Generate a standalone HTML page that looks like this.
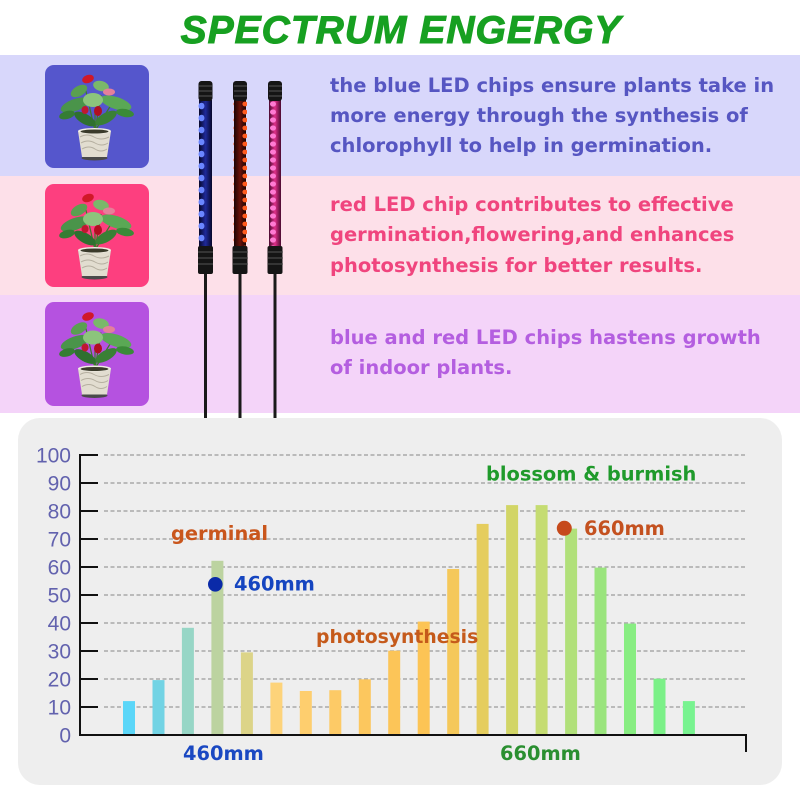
<!DOCTYPE html>
<html><head><meta charset="utf-8"><style>
html,body{margin:0;padding:0;background:#fff;}
body{width:800px;height:800px;overflow:hidden;position:relative;}
svg{position:absolute;left:0;top:0;}
.b{font-family:"DejaVu Sans","Liberation Sans",sans-serif;font-weight:bold;}
</style></head><body>
<svg width="800" height="800" viewBox="0 0 800 800" xmlns="http://www.w3.org/2000/svg">
<defs>
<symbol id="plant" viewBox="0 0 104 103">
  <g stroke="#3c7a2c" stroke-width="1.2" fill="none">
    <path d="M50 66 L44 40 M50 66 L56 30 M50 66 L40 22 M50 66 L66 40 M50 66 L50 46"/>
  </g>
  <ellipse cx="30" cy="40" rx="15" ry="6" transform="rotate(-20 30 40)" fill="#4a944a"/>
  <ellipse cx="71" cy="38" rx="16" ry="6" transform="rotate(18 71 38)" fill="#5aa855"/>
  <ellipse cx="48" cy="35" rx="10" ry="7" fill="#8cc47c"/>
  <ellipse cx="40" cy="54" rx="12" ry="5" transform="rotate(30 40 54)" fill="#2f7030"/>
  <ellipse cx="61" cy="53" rx="12" ry="5" transform="rotate(-30 61 53)" fill="#3a8035"/>
  <ellipse cx="56" cy="21" rx="8" ry="5" transform="rotate(15 56 21)" fill="#7ab86a"/>
  <ellipse cx="34" cy="26" rx="9" ry="5" transform="rotate(-30 34 26)" fill="#5aa050"/>
  <ellipse cx="80" cy="48" rx="9" ry="4" transform="rotate(10 80 48)" fill="#3a8a38"/>
  <ellipse cx="22" cy="50" rx="8" ry="4" transform="rotate(-15 22 50)" fill="#357d33"/>
  <ellipse cx="43" cy="14" rx="6" ry="4" transform="rotate(-20 43 14)" fill="#d01828"/>
  <ellipse cx="64" cy="27" rx="6" ry="3.5" fill="#e4809a"/>
  <ellipse cx="53" cy="46" rx="4" ry="5" fill="#b01020"/>
  <ellipse cx="40" cy="45" rx="3.5" ry="4" fill="#c01830"/>
  <ellipse cx="49.5" cy="93" rx="13" ry="2.5" fill="#4a4a4a"/>
  <path d="M33 66 L66 66 L62 92 L37 92 Z" fill="#e2ddd0"/>
  <path d="M35 72 Q42 68 49 72 T64 72 M36 78 Q43 74 50 78 T63 78 M37 84 Q44 80 50 84 T62 84" stroke="#b5afa0" stroke-width="1" fill="none"/>
  <ellipse cx="49.5" cy="66" rx="16.5" ry="3" fill="#f0ede4"/>
  <ellipse cx="49.5" cy="66.5" rx="14" ry="2" fill="#3a3a2a"/>
</symbol>
<linearGradient id="gBlue" x1="0" x2="1" y1="0" y2="0">
  <stop offset="0" stop-color="#07072a"/><stop offset="0.5" stop-color="#1f2a9a"/><stop offset="1" stop-color="#07072a"/>
</linearGradient>
<linearGradient id="gRed" x1="0" x2="1" y1="0" y2="0">
  <stop offset="0" stop-color="#1a0404"/><stop offset="0.5" stop-color="#6a1208"/><stop offset="1" stop-color="#1a0404"/>
</linearGradient>
<linearGradient id="gPink" x1="0" x2="1" y1="0" y2="0">
  <stop offset="0" stop-color="#4a0a30"/><stop offset="0.5" stop-color="#e0308a"/><stop offset="1" stop-color="#4a0a30"/>
</linearGradient>
<pattern id="ledB" x="0" y="100" width="14" height="12" patternUnits="userSpaceOnUse">
  <ellipse cx="7" cy="6" rx="3" ry="3.3" fill="#6a86ff"/>
</pattern>
<pattern id="ledR" x="0" y="100" width="14" height="8" patternUnits="userSpaceOnUse">
  <ellipse cx="7" cy="4" rx="2.6" ry="2.4" fill="#ff5a1e"/>
</pattern>
<pattern id="ledP" x="0" y="100" width="14" height="8" patternUnits="userSpaceOnUse">
  <ellipse cx="7" cy="4" rx="3" ry="2.6" fill="#ff7ad2"/>
</pattern>
</defs>

<!-- title -->
<text x="401" y="43" text-anchor="middle" font-family="Liberation Sans, sans-serif" font-weight="bold" font-style="italic" font-size="39" letter-spacing="1" fill="#17a021" stroke="#17a021" stroke-width="1">SPECTRUM ENGERGY</text>

<!-- bands -->
<rect x="0" y="55" width="800" height="121" fill="#d8d7fb"/>
<rect x="0" y="176" width="800" height="119" fill="#fde0e9"/>
<rect x="0" y="295" width="800" height="118" fill="#f4d4f9"/>

<!-- icons -->
<rect x="45" y="65" width="104" height="103" rx="9" fill="#5556cc"/>
<rect x="45" y="184" width="104" height="103" rx="9" fill="#fd3f7f"/>
<rect x="45" y="302" width="104" height="104" rx="9" fill="#b552e0"/>
<use href="#plant" x="45" y="65" width="104" height="103"/>
<use href="#plant" x="45" y="184" width="104" height="103"/>
<use href="#plant" x="45" y="302" width="104" height="104"/>

<!-- sticks -->
<g>
  <rect x="204" y="270" width="3" height="150" fill="#1a1a1a"/>
  <rect x="238.5" y="270" width="3" height="150" fill="#1a1a1a"/>
  <rect x="273.5" y="270" width="3" height="150" fill="#1a1a1a"/>
  <rect x="199" y="100" width="13" height="148" fill="url(#gBlue)"/>
  <rect x="199" y="100" width="13" height="148" fill="url(#ledB)" transform="translate(-1.5 0)"/>
  <rect x="198.5" y="81" width="14" height="20" rx="3" fill="#151515"/>
  <rect x="198" y="246" width="15" height="28" rx="2" fill="#151515"/>
  <rect x="234" y="100" width="12" height="148" fill="url(#gRed)"/>
  <rect x="233" y="100" width="14" height="148" fill="url(#ledR)"/>
  <rect x="233" y="81" width="14" height="20" rx="3" fill="#151515"/>
  <rect x="232.5" y="246" width="15" height="28" rx="2" fill="#151515"/>
  <rect x="269" y="100" width="12" height="148" fill="url(#gPink)"/>
  <rect x="268" y="100" width="14" height="148" fill="url(#ledP)"/>
  <rect x="268" y="81" width="14" height="20" rx="3" fill="#151515"/>
  <rect x="267.5" y="246" width="15" height="28" rx="2" fill="#151515"/>
  <g stroke="#555" stroke-width="1">
    <path d="M199 86h13M199 91h13M199 96h13M234 86h13M234 91h13M234 96h13M269 86h13M269 91h13M269 96h13"/>
    <path d="M198 252h15M198 258h15M198 264h15M233 252h15M233 258h15M233 264h15M268 252h15M268 258h15M268 264h15"/>
  </g>
</g>

<!-- paragraphs -->
<g class="b" font-size="19.5">
  <g fill="#5656c2">
    <text x="330" y="92">the blue LED chips ensure plants take in</text>
    <text x="330" y="122">more energy through the synthesis of</text>
    <text x="330" y="152">chlorophyll to help in germination.</text>
  </g>
  <g fill="#f0457e">
    <text x="330" y="211">red LED chip contributes to effective</text>
    <text x="330" y="241">germination,flowering,and enhances</text>
    <text x="330" y="272">photosynthesis for better results.</text>
  </g>
  <g fill="#b45ee0">
    <text x="330" y="344">blue and red LED chips hastens growth</text>
    <text x="330" y="374">of indoor plants.</text>
  </g>
</g>

<!-- chart panel -->
<rect x="18" y="418" width="764" height="367" rx="22" fill="#eeeeee"/>

<g stroke="#a9a9a9" stroke-width="1.6" stroke-dasharray="4 2.5">
  <line x1="104" x2="747" y1="707" y2="707"/>
  <line x1="104" x2="747" y1="679" y2="679"/>
  <line x1="104" x2="747" y1="651" y2="651"/>
  <line x1="104" x2="747" y1="623" y2="623"/>
  <line x1="104" x2="747" y1="595" y2="595"/>
  <line x1="104" x2="747" y1="567" y2="567"/>
  <line x1="104" x2="747" y1="539" y2="539"/>
  <line x1="104" x2="747" y1="511" y2="511"/>
  <line x1="104" x2="747" y1="483" y2="483"/>
  <line x1="104" x2="747" y1="455" y2="455"/>
</g>
<g stroke="#111" stroke-width="2">
  <path d="M80 707h18M80 679h18M80 651h18M80 623h18M80 595h18M80 567h18M80 539h18M80 511h18M80 483h18M80 455h18"/>
  <path d="M80 454V736M79 735H747M746 734V752"/>
</g>
<g font-family="Liberation Sans, sans-serif" font-size="21" fill="#6262ae" text-anchor="end">
  <text x="71" y="462.5">100</text>
  <text x="71" y="490.5">90</text>
  <text x="71" y="518.5">80</text>
  <text x="71" y="546.5">70</text>
  <text x="71" y="574.5">60</text>
  <text x="71" y="602.5">50</text>
  <text x="71" y="630.5">40</text>
  <text x="71" y="658.5">30</text>
  <text x="71" y="686.5">20</text>
  <text x="71" y="714.5">10</text>
  <text x="71" y="742.5">0</text>
</g>
<g>
  <rect x="123" y="701.1" width="12" height="32.9" fill="#5bd6f8"/>
  <rect x="152.5" y="680.1" width="12" height="53.9" fill="#72d3e4"/>
  <rect x="181.9" y="627.8" width="12" height="106.2" fill="#97d6c6"/>
  <rect x="211.4" y="560.8" width="12" height="173.2" fill="#bcd3a0"/>
  <rect x="240.9" y="652.4" width="12" height="81.6" fill="#dcd488"/>
  <rect x="270.4" y="682.6" width="12" height="51.4" fill="#fdd37a"/>
  <rect x="299.8" y="691" width="12" height="43" fill="#fece6e"/>
  <rect x="329.3" y="690.2" width="12" height="43.8" fill="#fdca66"/>
  <rect x="358.8" y="679.3" width="12" height="54.7" fill="#fcc75e"/>
  <rect x="388.2" y="650.7" width="12" height="83.3" fill="#fcc558"/>
  <rect x="417.7" y="621.6" width="12" height="112.4" fill="#fcc455"/>
  <rect x="447.2" y="569" width="12" height="165" fill="#f5c85a"/>
  <rect x="476.6" y="523.9" width="12" height="210.1" fill="#e5cd5e"/>
  <rect x="506.1" y="505.1" width="12" height="228.9" fill="#d2d566"/>
  <rect x="535.6" y="505.1" width="12" height="228.9" fill="#c5dc72"/>
  <rect x="565.1" y="528.6" width="12" height="205.4" fill="#b1e07a"/>
  <rect x="594.5" y="567.6" width="12" height="166.4" fill="#9ae47d"/>
  <rect x="624" y="623.6" width="12" height="110.4" fill="#88ed82"/>
  <rect x="653.5" y="678.7" width="12" height="55.3" fill="#7bf088"/>
  <rect x="682.9" y="701.1" width="12" height="32.9" fill="#78f390"/>
</g>
<g class="b" font-size="19.4">
  <text x="171" y="540" fill="#c9561c">germinal</text>
  <circle cx="215.3" cy="584.3" r="7.3" fill="#0a2aa8"/>
  <text x="234" y="590.7" fill="#1545c0">460mm</text>
  <text x="316" y="643" fill="#c55a1b" font-size="18.8">photosynthesis</text>
  <text x="486" y="480.5" fill="#1f9a2b">blossom &amp; burmish</text>
  <circle cx="564.3" cy="528.3" r="7.5" fill="#c64a1c"/>
  <text x="584" y="535" fill="#c4511f">660mm</text>
  <text x="183" y="760" fill="#1a48c2">460mm</text>
  <text x="500" y="760" fill="#2a8f30">660mm</text>
</g>
</svg>
</body></html>
